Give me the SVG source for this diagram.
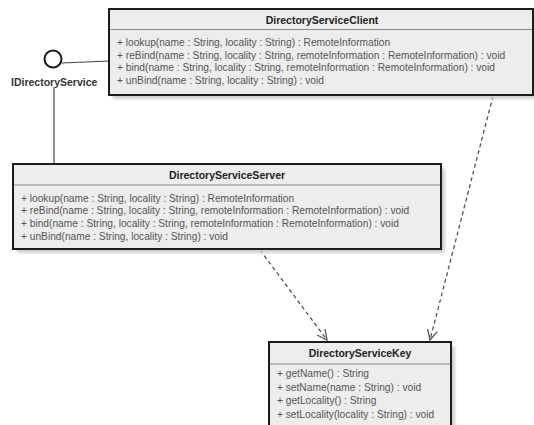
<svg xmlns="http://www.w3.org/2000/svg" width="534" height="425" viewBox="0 0 534 425">
<defs>
<style>
.box{fill:#ededed;stroke:#1c1c1c;stroke-width:2}
.shadow{fill:#cfcfcf;filter:url(#blur)}
.sep{stroke:#8a8a8a;stroke-width:1}
.title{font-family:"Liberation Sans",Arial,sans-serif;font-size:10.5px;font-weight:bold;fill:#222;text-anchor:middle}
.op{font-family:"Liberation Sans",Arial,sans-serif;font-size:10.2px;fill:#555}
.lbl{font-family:"Liberation Sans",Arial,sans-serif;font-size:10.5px;font-weight:bold;fill:#333}
.solid{stroke:#444;stroke-width:1.2;fill:none}
.dep{stroke:#555;stroke-width:1.3;fill:none;stroke-dasharray:4 3}
</style>
<filter id="blur" x="-10%" y="-10%" width="120%" height="120%"><feGaussianBlur stdDeviation="1.5"/></filter>
<marker id="open" viewBox="0 0 12 12" refX="11" refY="6" markerWidth="12" markerHeight="12" markerUnits="userSpaceOnUse" orient="auto">
<path d="M1,1 L11,6 L1,11" fill="none" stroke="#555" stroke-width="1.3"/>
</marker>
</defs>
<rect width="534" height="425" fill="#ffffff"/>

<g id="connectors">
<line class="solid" x1="62" y1="63" x2="109" y2="61"/>
<line class="solid" x1="54" y1="87" x2="54" y2="164"/>
<line class="dep" x1="260" y1="250" x2="327" y2="340" marker-end="url(#open)"/>
<line class="dep" x1="493" y1="96" x2="430" y2="340" marker-end="url(#open)"/>
</g>

<g id="IDirectoryService">
<circle cx="53" cy="59" r="8.5" fill="#ffffff" stroke="#1c1c1c" stroke-width="2"/>
<text class="lbl" x="11" y="86">IDirectoryService</text>
</g>

<g id="DirectoryServiceClient">
<rect class="shadow" x="113" y="13" width="424" height="86"/>
<rect class="box" x="109" y="9" width="424" height="86"/>
<line class="sep" x1="110" y1="29.5" x2="532" y2="29.5"/>
<text class="title" x="322" y="24">DirectoryServiceClient</text>
<text class="op" x="117" y="46">+ lookup(name : String, locality : String) : RemoteInformation</text>
<text class="op" x="117" y="58.7">+ reBind(name : String, locality : String, remoteInformation : RemoteInformation) : void</text>
<text class="op" x="117" y="71.4">+ bind(name : String, locality : String, remoteInformation : RemoteInformation) : void</text>
<text class="op" x="117" y="84.1">+ unBind(name : String, locality : String) : void</text>
</g>

<g id="DirectoryServiceServer">
<rect class="shadow" x="17" y="168" width="428" height="85"/>
<rect class="box" x="13" y="164" width="428" height="85"/>
<line class="sep" x1="14" y1="185" x2="440" y2="185"/>
<text class="title" x="227" y="179">DirectoryServiceServer</text>
<text class="op" x="21" y="201.5">+ lookup(name : String, locality : String) : RemoteInformation</text>
<text class="op" x="21" y="214.2">+ reBind(name : String, locality : String, remoteInformation : RemoteInformation) : void</text>
<text class="op" x="21" y="226.9">+ bind(name : String, locality : String, remoteInformation : RemoteInformation) : void</text>
<text class="op" x="21" y="239.6">+ unBind(name : String, locality : String) : void</text>
</g>

<g id="DirectoryServiceKey">
<rect class="shadow" x="273" y="346" width="182" height="90"/>
<rect class="box" x="269" y="342" width="182" height="90"/>
<line class="sep" x1="270" y1="364" x2="450" y2="364"/>
<text class="title" x="360" y="357">DirectoryServiceKey</text>
<text class="op" x="277" y="377">+ getName() : String</text>
<text class="op" x="277" y="390.5">+ setName(name : String) : void</text>
<text class="op" x="277" y="404">+ getLocality() : String</text>
<text class="op" x="277" y="417.5">+ setLocality(locality : String) : void</text>
</g>
</svg>
